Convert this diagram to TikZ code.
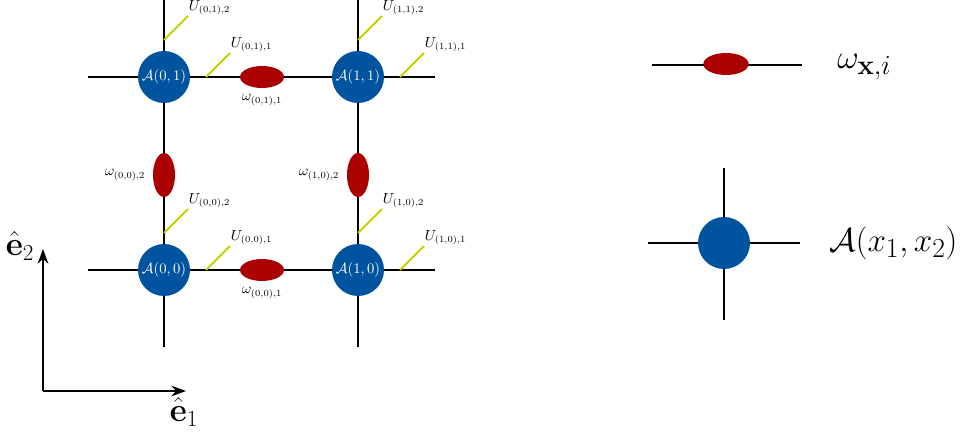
\documentclass[tikz,border=0pt]{standalone}
\usetikzlibrary{arrows.meta,shapes.geometric,calc}
\definecolor{siteblue}{RGB}{0,84,159}
\definecolor{bondred}{RGB}{170,0,0}
\definecolor{gaugegreen}{RGB}{196,210,0}
\begin{document}
\begin{tikzpicture}[x=0.75pt,y=-0.75pt,
  leg/.style={line width=1.5pt},
  legthin/.style={line width=1.2pt},
  site/.style={circle,fill=siteblue,minimum size=39pt,inner sep=0pt,text=white,
    font=\fontsize{10.5}{12}\selectfont},
  hbond/.style={ellipse,fill=bondred,minimum width=33pt,minimum height=16.5pt,inner sep=0pt},
  vbond/.style={ellipse,fill=bondred,minimum width=16.5pt,minimum height=33pt,inner sep=0pt},
  gauge/.style={draw=gaugegreen,line width=1.5pt},
  lbl/.style={font=\fontsize{10.5}{12}\selectfont,inner sep=0.5pt},
  bigw/.style={font=\fontsize{31}{36}\selectfont,inner sep=0pt},
  biga/.style={font=\fontsize{28}{33}\selectfont,inner sep=0pt},
  axis/.style={line width=1.5pt,-{Stealth[length=11pt,width=8pt]}},
  axlbl/.style={font=\fontsize{24}{28}\selectfont,inner sep=0pt}]
\useasboundingbox (0,0) rectangle (966,438);

% lattice legs
\coordinate (c0t) at (164,0);   \coordinate (c0b) at (164,347);
\coordinate (c1t) at (358,0);   \coordinate (c1b) at (358,347);
\coordinate (r1l) at (88,77);   \coordinate (r1r) at (435,77);
\coordinate (r0l) at (88,270);  \coordinate (r0r) at (435,270);
\draw[leg] (c0t) -- (c0b);
\draw[leg] (c1t) -- (c1b);
\draw[leg] (r1l) -- (r1r);
\draw[leg] (r0l) -- (r0r);

% sites
\node[site] (a01) at (164,77)  {$\mathcal{A}(0,1)$};
\node[site] (a11) at (358,77)  {$\mathcal{A}(1,1)$};
\node[site] (a00) at (164,270) {$\mathcal{A}(0,0)$};
\node[site] (a10) at (358,270) {$\mathcal{A}(1,0)$};

% link variables
\node[hbond] (w011) at (262,77)  {};
\node[hbond] (w001) at (262,270) {};
\node[vbond] (w002) at (164,175) {};
\node[vbond] (w102) at (358,175) {};
\node[lbl,anchor=north] at ([yshift=-4pt]w011.south) {$\omega_{(0,1),1}$};
\node[lbl,anchor=north] at ([yshift=-4pt]w001.south) {$\omega_{(0,0),1}$};
\node[lbl,anchor=east]  at ([xshift=-5pt]w002.west)  {$\omega_{(0,0),2}$};
\node[lbl,anchor=east]  at ([xshift=-5pt]w102.west)  {$\omega_{(1,0),2}$};

% gauge fields attached to the legs of each site
\foreach \n/\i/\j in {a01/0/1, a11/1/1, a00/0/0, a10/1/0}{
  \coordinate (\n-u2a) at ($(\n)+(0,-37)$);
  \coordinate (\n-u2b) at ($(\n)+(24,-61)$);
  \coordinate (\n-u1a) at ($(\n)+(42,0)$);
  \coordinate (\n-u1b) at ($(\n)+(66,-24)$);
  \draw[gauge] (\n-u2a) -- (\n-u2b);
  \draw[gauge] (\n-u1a) -- (\n-u1b);
  \node[lbl,anchor=south west] at (\n-u2b) {$U_{(\i,\j),2}$};
  \node[lbl,anchor=south west] at (\n-u1b) {$U_{(\i,\j),1}$};
}

% basis vectors
\coordinate (orig) at (43,391);
\coordinate (e1tip) at (186,391);
\coordinate (e2tip) at (43,249);
\draw[axis] (orig) -- (e1tip);
\draw[axis] (orig) -- (e2tip);
\node[axlbl] (e1) at (184,412) {$\hat{\mathbf{e}}_1$};
\node[axlbl] (e2) at (20,246) {$\hat{\mathbf{e}}_2$};

% legend: link variable
\coordinate (lwl) at (652,65);
\coordinate (lwr) at (802,65);
\draw[legthin] (lwl) -- (lwr);
\node[ellipse,fill=bondred,minimum width=34pt,minimum height=16.5pt,inner sep=0pt] (lw) at (726,64) {};
\node[bigw,anchor=west] (lwt) at (837,67) {$\omega_{\mathbf{x},i}$};

% legend: site tensor
\coordinate (lst) at (724,168);
\coordinate (lsb) at (724,320);
\coordinate (lsl) at (648,243);
\coordinate (lsr) at (800,243);
\draw[legthin] (lst) -- (lsb);
\draw[legthin] (lsl) -- (lsr);
\node[circle,fill=siteblue,minimum size=39pt,inner sep=0pt] (ls) at (724,243) {};
\node[biga,anchor=west] (lstxt) at (829,243) {$\mathcal{A}(x_1,x_2)$};
\end{tikzpicture}
\end{document}
